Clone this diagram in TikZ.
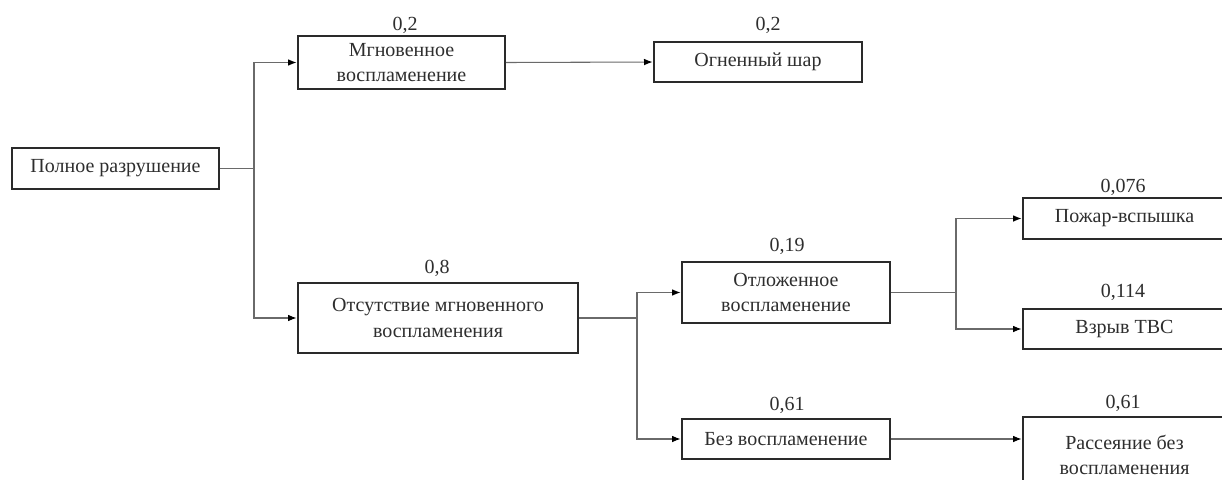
\documentclass[tikz,border=0pt]{standalone}
\usepackage{fontspec}
\setmainfont{Liberation Serif}
\usetikzlibrary{arrows.meta}
\definecolor{boxline}{HTML}{2A2A2A}
\definecolor{conline}{HTML}{6A6A6A}
\definecolor{txt}{HTML}{2E2E2E}
\begin{document}
\begin{tikzpicture}[x=0.75pt,y=-0.75pt,
  ev/.style={draw=boxline,line width=1.4pt,fill=white,inner sep=0pt,align=center,
    text=txt,font=\fontsize{15}{19}\selectfont},
  prob/.style={text=txt,inner sep=0pt,font=\fontsize{15}{18}\selectfont},
  con/.style={draw=conline,line width=0.8pt},
  arr/.style={con,-{Latex[length=6.5pt,width=5pt,color=black]},shorten >=0.3pt}]
\useasboundingbox (0,0) rectangle (1222,479);
\clip (0,0) rectangle (1222,479);
\fill[white] (0,0) rectangle (1222,479);
% nodes
\node[ev,minimum width=155.25pt,minimum height=30.75pt] (A) at (115.5,168.5) {Полное разрушение};
\node[ev,minimum width=155.25pt,minimum height=39.75pt] (B) at (401.5,62.5) {Мгновенное\\воспламенение};
\node[ev,minimum width=156pt,minimum height=30pt] (C) at (758,62) {Огненный шар};
\node[ev,minimum width=210pt,minimum height=52.5pt] (D) at (438,318) {Отсутствие мгновенного\\воспламенения};
\node[ev,minimum width=156pt,minimum height=45.75pt] (E) at (786,292.5) {Отложенное\\воспламенение};
\node[ev,minimum width=156pt,minimum height=30pt] (F) at (786,439) {Без воспламенение};
\node[ev,minimum width=152.25pt,minimum height=30.75pt] (G) at (1124.5,218.5) {Пожар-вспышка};
\node[ev,minimum width=152.25pt,minimum height=30pt] (H) at (1124.5,329) {Взрыв ТВС};
\node[ev,minimum width=152.25pt,minimum height=57pt] (I) at (1124.5,455) {Рассеяние без\\воспламенения};
% probabilities
\node[prob] (pB) at (405,25) {0,2};
\node[prob] (pC) at (768,25) {0,2};
\node[prob] (pD) at (437,268) {0,8};
\node[prob] (pE) at (787,246) {0,19};
\node[prob] (pF) at (787,405) {0,61};
\node[prob] (pG) at (1123,187) {0,076};
\node[prob] (pH) at (1123,292) {0,114};
\node[prob] (pI) at (1123,403) {0,61};
% junctions
\coordinate (j1) at (254,168.5);
\coordinate (j2) at (637,318);
\coordinate (j3) at (956,292.5);
% connectors
\draw[con] (A.east) -- (j1);
\draw[arr] (j1) |- (B.west);
\draw[arr] (j1) |- (D.west);
\draw[arr] (B.east) -- (C.west);
\draw[con] (D.east) -- (j2);
\draw[arr] (j2) |- (E.west);
\draw[arr] (j2) |- (F.west);
\draw[con] (E.east) -- (j3);
\draw[arr] (j3) |- (G.west);
\draw[arr] (j3) |- (H.west);
\draw[arr] (F.east) -- (F.east -| I.west);
\end{tikzpicture}
\end{document}
